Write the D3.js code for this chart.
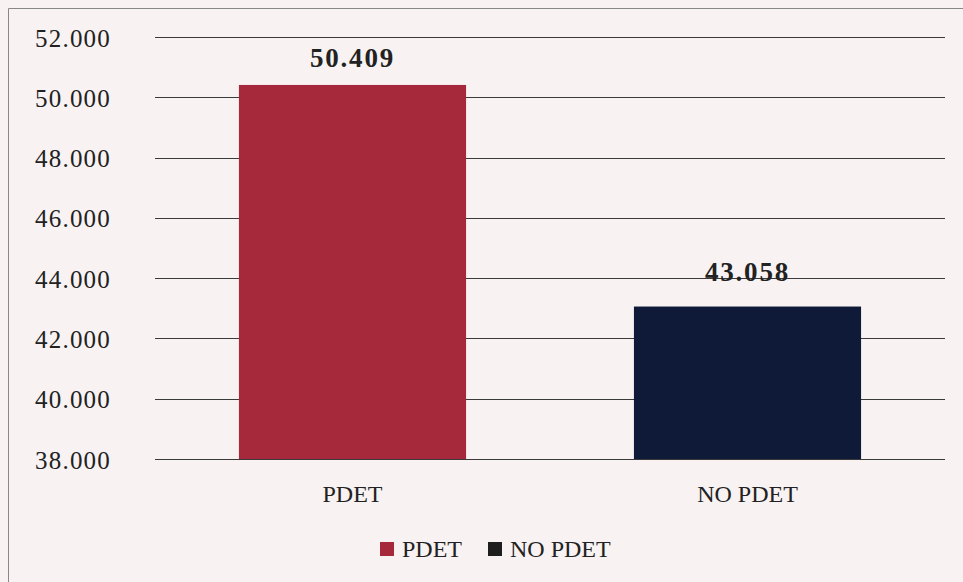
<!DOCTYPE html>
<html><head><meta charset="utf-8">
<script src="https://cdn.jsdelivr.net/npm/d3@7"></script>
<style>body{margin:0;background:#f8f3f2;}svg{display:block;}</style>
</head><body>
<script>
const categories = ["PDET", "NO PDET"];
const values = [50.409, 43.058];
const valueLabels = ["50.409", "43.058"];
const yTicks = [38, 40, 42, 44, 46, 48, 50, 52];
const colors = ["#a5293a", "#0e1a38"];
const legendColors = ["#a5293a", "#1e1e1e"];

const W = 963, H = 582;
const margin = {left: 155, right: 18, top: 37, bottom: 123};
const svg = d3.select("body").append("svg").attr("width", W).attr("height", H);
svg.append("rect").attr("width", W).attr("height", H).attr("fill", "#f8f3f2");
// frame
svg.append("path").attr("d", "M8.5,582 V8.5 H963").attr("fill", "none").attr("stroke", "#888").attr("stroke-width", 1);

const font = "'Liberation Serif', 'DejaVu Serif', serif";
const x = d3.scaleBand().domain(categories).range([margin.left, W - margin.right]).paddingInner(0.425).paddingOuter(0.2125);
const y = d3.scaleLinear().domain([38, 52]).range([H - margin.bottom, margin.top]);

const g = svg.append("g");
g.selectAll("line.grid").data(yTicks).enter().append("line")
  .attr("x1", margin.left).attr("x2", W - margin.right)
  .attr("y1", d => Math.round(y(d)) + 0.5).attr("y2", d => Math.round(y(d)) + 0.5)
  .attr("stroke", "#3a3a3a").attr("stroke-width", 1.2);

const yAxis = d3.axisLeft(y).tickValues(yTicks).tickSize(0).tickPadding(0)
  .tickFormat(d => d3.format(".3f")(d));
const ya = svg.append("g").attr("transform", `translate(111,0)`).call(yAxis);
ya.select(".domain").remove();
ya.selectAll("text").attr("font-family", font).attr("font-size", 25).attr("letter-spacing", 1.2)
  .attr("fill", "#222").attr("dy", "0.36em");

g.selectAll("rect.bar").data(values).enter().append("rect")
  .attr("x", (d, i) => x(categories[i])).attr("width", x.bandwidth())
  .attr("y", d => y(d)).attr("height", d => y(38) - y(d))
  .attr("fill", (d, i) => colors[i]);

const labelGap = [18, 26];
g.selectAll("text.val").data(values).enter().append("text")
  .attr("x", (d, i) => x(categories[i]) + x.bandwidth() / 2)
  .attr("y", (d, i) => y(d) - labelGap[i])
  .attr("text-anchor", "middle").attr("font-family", font).attr("font-weight", "bold")
  .attr("font-size", 27).attr("letter-spacing", 1.8).attr("fill", "#222")
  .text((d, i) => valueLabels[i]);

const xAxis = d3.axisBottom(x).tickSize(0).tickPadding(0);
const xa = svg.append("g").attr("transform", `translate(0,${y(38) + 43})`).call(xAxis);
xa.select(".domain").remove();
xa.selectAll("text").attr("font-family", font).attr("font-size", 24).attr("fill", "#222").attr("dy", 0);

// legend
const legX = [380, 488];
const leg = svg.append("g");
categories.forEach((c, i) => {
  leg.append("rect").attr("x", legX[i]).attr("y", 542).attr("width", 14).attr("height", 14).attr("fill", legendColors[i]);
  leg.append("text").attr("x", legX[i] + 22).attr("y", 557).attr("font-family", font)
    .attr("font-size", 24).attr("fill", "#222").text(c);
});
</script>
</body></html>
